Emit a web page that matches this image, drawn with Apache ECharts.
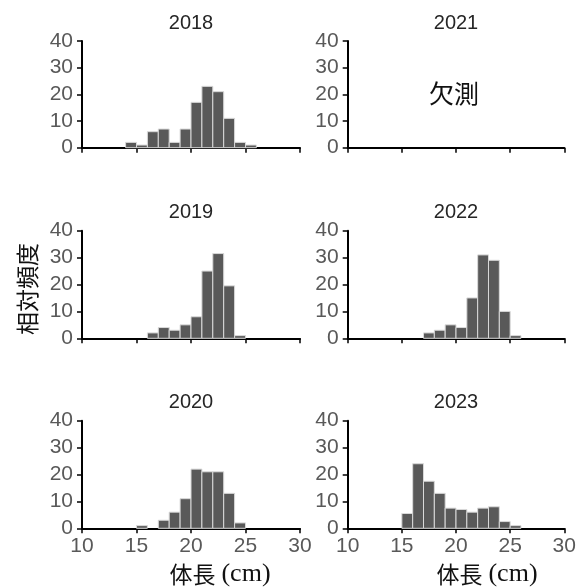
<!DOCTYPE html>
<html><head><meta charset="utf-8">
<script src="https://cdn.jsdelivr.net/npm/echarts@6/dist/echarts.min.js"></script>
<style>html,body{margin:0;padding:0;background:#fff}#c{width:581px;height:587px}</style>
</head><body><div id="c"></div>
<script>
const binLeft = [10,11,12,13,14,15,16,17,18,19,20,21,22,23,24,25,26,27,28,29];
const years = ['2018','2021','2019','2022','2020','2023'];
const v2018 = [0,0,0,0,2,1,6,7,2,7,17,23,21,11,2,1,0,0,0,0];
const v2021 = null;
const v2019 = [0,0,0,0,0,0,2,4,3,5,8,25,31.5,19.5,1,0,0,0,0,0];
const v2022 = [0,0,0,0,0,0,0,2,3,5,4,15,31,29,10,1,0,0,0,0];
const v2020 = [0,0,0,0,0,1,0,3,6,11,22,21,21,13,2,0,0,0,0,0];
const v2023 = [0,0,0,0,0,5.5,24,17.5,13,7.5,7,6,7.5,8,2.5,1,0,0,0,0];
const values = [v2018, v2021, v2019, v2022, v2020, v2023];
const xTicks = [10,15,20,25,30];
const yTicks = [0,10,20,30,40];
const missingText = '欠測';
const xName = '体長';
const xUnit = '(cm)';
const yName = '相対頻度';

const chart = echarts.init(document.getElementById('c'));
const lefts = [82, 347.7];
const widths = [218, 216.6];
const tops = [41, 230.7, 420.7];
const heights = [106.7, 107.6, 107.6];
const grids = [], xAxes = [], yAxes = [], series = [], graphics = [];
for (let i = 0; i < 6; i++) {
  const col = i % 2, row = Math.floor(i / 2);
  grids.push({left: lefts[col], top: tops[row], width: widths[col], height: heights[row]});
  xAxes.push({
    type: 'value', gridIndex: i, min: xTicks[0], max: xTicks[xTicks.length-1], interval: 5,
    axisLine: {show: true, lineStyle: {color: '#000', width: 2}},
    axisTick: {show: true, length: 5, lineStyle: {color: '#000', width: 1.5}},
    axisLabel: {show: row === 2, color: '#595959', fontSize: 21, fontFamily: 'Liberation Sans', margin: 7},
    splitLine: {show: false}
  });
  yAxes.push({
    type: 'value', gridIndex: i, min: yTicks[0], max: yTicks[yTicks.length-1], interval: 10,
    axisLine: {show: true, lineStyle: {color: '#000', width: 2}},
    axisTick: {show: true, length: 5, lineStyle: {color: '#000', width: 1.5}},
    axisLabel: {color: '#595959', fontSize: 21, fontFamily: 'Liberation Sans', margin: 9},
    splitLine: {show: false}
  });
  graphics.push({
    type: 'text', x: lefts[col] + widths[col]/2, y: tops[row] - 18,
    style: {text: years[i], fill: '#262626', fontSize: 20, fontFamily: 'Liberation Sans', align: 'center', verticalAlign: 'middle'}
  });
  const vals = values[i];
  if (vals) {
    series.push({
      type: 'custom', xAxisIndex: i, yAxisIndex: i,
      data: binLeft.map((b, k) => [b, vals[k]]),
      renderItem: function (params, api) {
        const x0 = api.value(0), v = api.value(1);
        if (!v) return null;
        const p1 = api.coord([x0, v]);
        const p2 = api.coord([x0 + 1, 0]);
        return {
          type: 'rect',
          shape: {x: p1[0], y: p1[1], width: p2[0] - p1[0], height: p2[1] - p1[1]},
          style: {fill: '#595959', stroke: '#d9d9d9', lineWidth: 1}
        };
      },
      silent: true
    });
  }
}
const nameRich = {a: {fontSize: 23, fontFamily: 'Noto Sans CJK JP', fill: '#111'}, b: {fontSize: 26, fontFamily: 'Liberation Serif', fill: '#111', padding: [0, 0, 0, 6]}};
graphics.push(
  {type: 'text', x: 454, y: 93, style: {text: missingText, fontSize: 25, fill: '#111', fontFamily: 'Noto Sans CJK JP', align: 'center', verticalAlign: 'middle'}},
  {type: 'text', x: 27, y: 289, rotation: Math.PI/2, style: {text: yName, fontSize: 23, fill: '#111', fontFamily: 'Noto Sans CJK JP', align: 'center', verticalAlign: 'middle'}},
  {type: 'text', x: 220, y: 574, style: {text: '{a|' + xName + '}{b|' + xUnit + '}', align: 'center', verticalAlign: 'middle', rich: nameRich}},
  {type: 'text', x: 487, y: 574, style: {text: '{a|' + xName + '}{b|' + xUnit + '}', align: 'center', verticalAlign: 'middle', rich: nameRich}}
);
chart.setOption({
  animation: false,
  backgroundColor: '#fff',
  grid: grids, xAxis: xAxes, yAxis: yAxes, series: series,
  graphic: graphics
});
</script></body></html>
